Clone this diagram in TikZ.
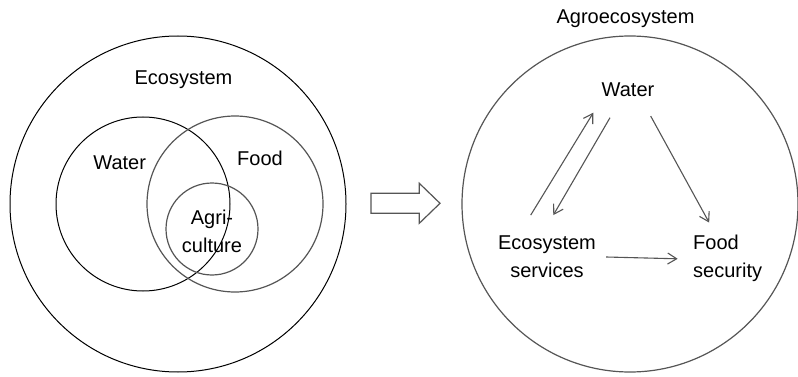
\documentclass[tikz,border=0pt]{standalone}
\usepackage{fontspec}
\setmainfont{Liberation Sans}
\usetikzlibrary{arrows.meta,calc}
\definecolor{linegray}{HTML}{555555}
\begin{document}
\begin{tikzpicture}[x=1pt,y=-1pt,
    lbl/.style={inner sep=0pt,font=\fontsize{20}{28}\selectfont},
    blackring/.style={draw=black,line width=1pt},
    grayring/.style={draw=linegray,line width=1.2pt},
    arr/.style={draw=linegray,line width=1.1pt,-{Straight Barb[length=9pt,width=11pt]}}]
  \useasboundingbox (0,0) rectangle (798,377);

  % left: nested ecosystem view
  \draw[blackring] (178,204) circle[radius=168pt];
  \draw[blackring] (143,204) circle[radius=87pt];
  \draw[grayring] (235,204) circle[radius=88pt];
  \draw[grayring] (212,229) circle[radius=46pt];
  \node[lbl,anchor=base] (eco) at (183.5,84.3) {Ecosystem};
  \node[lbl,anchor=base] (wat) at (119.7,170) {Water};
  \node[lbl,anchor=base] (food) at (260,165) {Food};
  \node[lbl,align=center] (agri) at (212,231.5) {Agri-\\culture};

  % transition arrow
  \draw[draw=linegray,line width=1.2pt,fill=white]
    (371,193.3) -- (419.3,193.3) -- (419.3,183.3) -- (440,203.3)
    -- (419.3,223.3) -- (419.3,213.3) -- (371,213.3) -- cycle;

  % right: agroecosystem relations
  \draw[grayring] (630,204) circle[radius=168pt];
  \node[lbl,anchor=base] (agro) at (625.5,23.3) {Agroecosystem};
  \node[lbl,anchor=base] (W) at (628,96.7) {Water};
  \node[lbl,align=center] (ES) at (547,257) {Ecosystem\\services};
  \node[lbl,align=left,anchor=west] (FS) at (693,258.8) {Food\\security};

  \draw[arr] ($(ES.north)+(-16.3,-20.7)$) -- ($(W.south)+(-34.7,15.6)$);
  \draw[arr] ($(W.south)+(-18,20.6)$) -- ($(ES.north)+(6.3,-20.7)$);
  \draw[arr] ($(W.south)+(22.7,19)$) -- ($(FS.north)+(-18.5,-12.7)$);
  \draw[arr] ($(ES.east)+(10,0)$) -- ($(FS.west)+(-15.3,0)$);
\end{tikzpicture}
\end{document}
